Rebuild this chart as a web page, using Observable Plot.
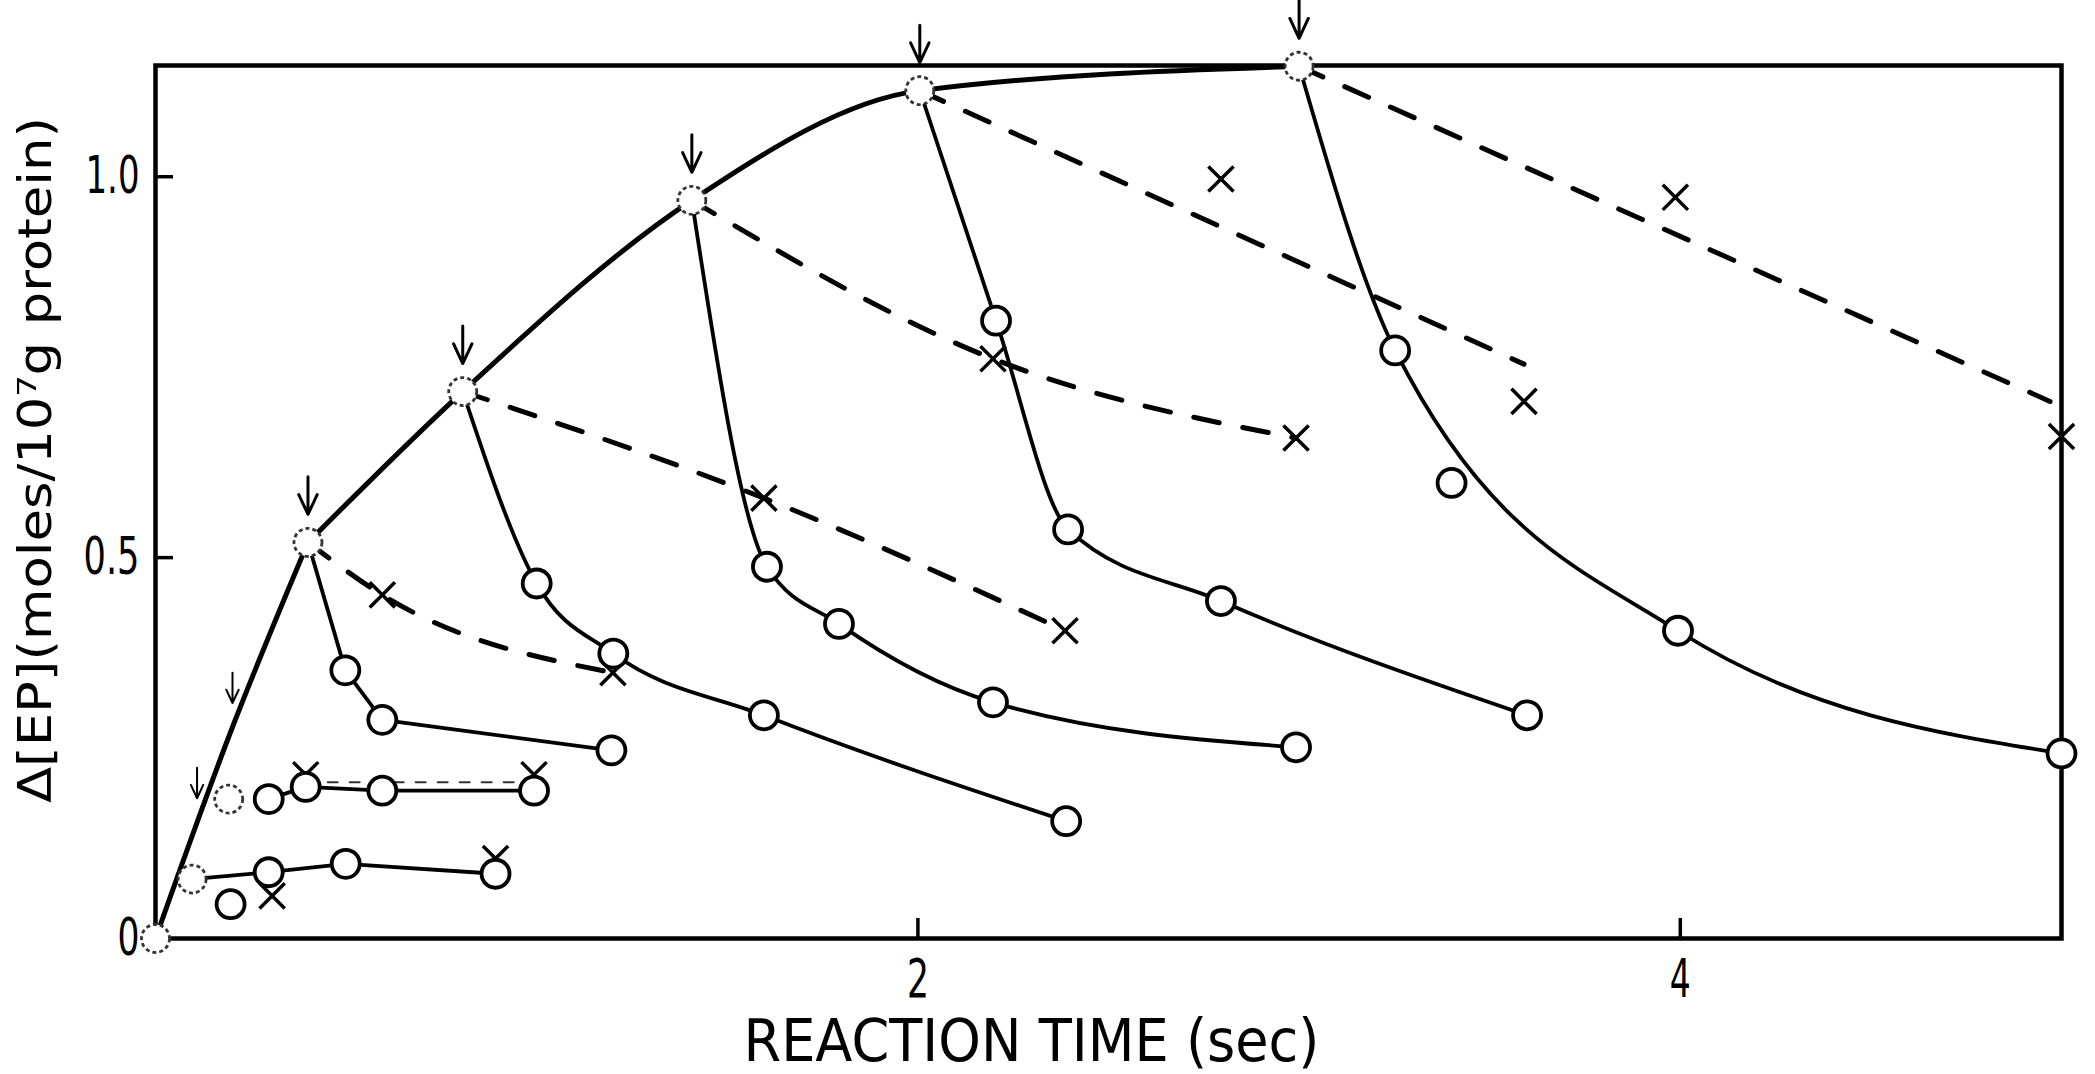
<!DOCTYPE html>
<html>
<head>
<meta charset="utf-8">
<script src="https://cdn.jsdelivr.net/npm/d3@7"></script>
<script src="https://cdn.jsdelivr.net/npm/@observablehq/plot@0.6"></script>
<style>
  html, body { margin: 0; padding: 0; background: #fff; }
  svg { display: block; }
</style>
</head>
<body>
<div id="chart"></div>
<script>
// ---------- data ----------
// main rising curve (reaction time in sec, Δ[EP]): early rise, then saturating part
const riseT = [0, 0.2, 0.4];
const riseY = [0, 0.275, 0.52];
const satT = [0.4, 0.806, 1.407, 2.005, 3.0];
const satY = [0.52, 0.718, 0.969, 1.113, 1.145];

// start points of each chase (drawn as dotted circles)
const startSeries = ["O", "F", "G", "A", "B", "C", "D", "E"];
const startT = [0, 0.096, 0.192, 0.4, 0.806, 1.407, 2.005, 3.0];
const startY = [0, 0.078, 0.183, 0.52, 0.718, 0.969, 1.113, 1.145];

// arrows marking the chase times on the main curve
const arrowT = [0.4, 0.806, 1.407, 2.005, 3.0];
const arrowY = [0.52, 0.718, 0.969, 1.113, 1.145];
const smallArrowT = [0.109, 0.202];
const smallArrowY = [0.15, 0.275];

// open circles (solid-line series)
const circA_T = [0.498, 0.595, 1.196], circA_Y = [0.352, 0.287, 0.247];
const circB_T = [1.0, 1.201, 1.596, 2.389], circB_Y = [0.466, 0.374, 0.293, 0.154];
const circC_T = [1.604, 1.793, 2.197, 2.992], circC_Y = [0.488, 0.413, 0.31, 0.251];
const circD_T = [2.205, 2.394, 2.795, 3.598], circD_Y = [0.811, 0.537, 0.443, 0.293];
const circE_T = [3.252, 3.40, 3.994, 5.0], circE_Y = [0.772, 0.598, 0.404, 0.243];
const circE_onLine = [true, false, true, true];
const circF_T = [0.297, 0.499, 0.892], circF_Y = [0.087, 0.098, 0.085];
const circG_T = [0.297, 0.394, 0.595, 0.993], circG_Y = [0.183, 0.199, 0.194, 0.194];
const loneCircT = [0.197], loneCircY = [0.045];

// crosses (dashed-line series)
const crossA_T = [0.595, 1.2], crossA_Y = [0.451, 0.349];
const crossB_T = [1.596, 2.386], crossB_Y = [0.578, 0.404];
const crossC_T = [2.197, 2.992], crossC_Y = [0.761, 0.657];
const crossD_T = [2.795, 3.59], crossD_Y = [0.997, 0.705];
const crossE_T = [3.987, 5.0], crossE_Y = [0.973, 0.659];
const crossF_T = [0.306, 0.892], crossF_Y = [0.056, 0.105];
const crossG_T = [0.394, 0.993], crossG_Y = [0.215, 0.215];

// straight dashed fits (D, E) and the faint dashed line of G
const dashD_T = [2.005, 3.59], dashD_Y = [1.113, 0.754];
const dashE_T = [3.0, 4.97], dashE_Y = [1.145, 0.705];
const dashG_T = [0.394, 0.993], dashG_Y = [0.205, 0.205];

// axes
const xTicks = [2, 4];
const yTickLabels = [0, 0.5, 1.0];
const yTicks = [0.5, 1.0];
const xTitle = "REACTION TIME (sec)";
const yTitle = "Δ[EP](moles/10⁷g protein)";

// ---------- build tables ----------
const zip = (s, T, Y) => T.map((t, i) => ({s, t, y: Y[i]}));
const startPt = Object.fromEntries(startSeries.map((s, i) => [s, {s, t: startT[i], y: startY[i]}]));

const rise = zip("rise", riseT, riseY);
const sat = zip("sat", satT, satY);
const starts = zip("start", startT, startY);
const arrows = zip("arrow", arrowT, arrowY);
const smallArrows = zip("arrow", smallArrowT, smallArrowY);

const circles = [
  ...zip("A", circA_T, circA_Y), ...zip("B", circB_T, circB_Y), ...zip("C", circC_T, circC_Y),
  ...zip("D", circD_T, circD_Y), ...zip("E", circE_T, circE_Y), ...zip("F", circF_T, circF_Y),
  ...zip("G", circG_T, circG_Y), ...zip("lone", loneCircT, loneCircY)
];
const crosses = [
  ...zip("A", crossA_T, crossA_Y), ...zip("B", crossB_T, crossB_Y), ...zip("C", crossC_T, crossC_Y),
  ...zip("D", crossD_T, crossD_Y), ...zip("E", crossE_T, crossE_Y), ...zip("F", crossF_T, crossF_Y),
  ...zip("G", crossG_T, crossG_Y)
];

const solidCurved = [
  [startPt.B, ...zip("B", circB_T, circB_Y)],
  [startPt.C, ...zip("C", circC_T, circC_Y)],
  [startPt.D, ...zip("D", circD_T, circD_Y)],
  [startPt.E, ...zip("E", circE_T, circE_Y).filter((d, i) => circE_onLine[i])]
].flat();
const solidStraight = [
  [startPt.A, ...zip("A", circA_T, circA_Y)],
  [startPt.F, ...zip("F", circF_T, circF_Y)],
  zip("G", circG_T, circG_Y)
].flat();
const dashedCurved = [
  [startPt.A, ...zip("A", crossA_T, crossA_Y)],
  [startPt.B, ...zip("B", crossB_T, crossB_Y)],
  [startPt.C, ...zip("C", crossC_T, crossC_Y)]
].flat();
const dashedStraight = [...zip("D", dashD_T, dashD_Y), ...zip("E", dashE_T, dashE_Y)];
const dashedThin = zip("G", dashG_T, dashG_Y);

const FONT = "'DejaVu Sans', 'Liberation Sans', sans-serif";

const svg = Plot.plot({
  width: 2095,
  height: 1074,
  marginLeft: 155,
  marginRight: 34,
  marginTop: 65,
  marginBottom: 136,
  x: {domain: [0, 5]},
  y: {domain: [0, 1.146]},
  style: {fontFamily: FONT, background: "#fff", color: "#000"},
  marks: [
    Plot.frame({stroke: "#000", strokeWidth: 4.5}),
    Plot.axisY(yTickLabels, {tickSize: 0, tickPadding: 16, fontSize: 52, label: null,
      tickFormat: d => d === 0 ? "0" : d.toFixed(1)}),
    Plot.axisY(yTicks, {tickSize: -18, strokeWidth: 3.5, tickFormat: () => "", label: null}),
    Plot.axisX(xTicks, {tickSize: 0, tickPadding: 20, fontSize: 54, label: null, tickFormat: d => String(d)}),
    Plot.axisX(xTicks, {tickSize: -20, strokeWidth: 3.5, tickFormat: () => "", label: null}),

    // main curve
    Plot.line(rise, {x: "t", y: "y", curve: "monotone-x", stroke: "#000", strokeWidth: 5}),
    Plot.line(sat, {x: "t", y: "y", curve: "monotone-x", stroke: "#000", strokeWidth: 5}),
    // solid chase lines
    Plot.line(solidCurved, {x: "t", y: "y", z: "s", curve: "monotone-x", stroke: "#000", strokeWidth: 3.8}),
    Plot.line(solidStraight, {x: "t", y: "y", z: "s", stroke: "#000", strokeWidth: 3.8}),
    // dashed chase lines
    Plot.line(dashedCurved, {x: "t", y: "y", z: "s", curve: "monotone-x", stroke: "#000", strokeWidth: 5, strokeDasharray: "26,24"}),
    Plot.line(dashedStraight, {x: "t", y: "y", z: "s", stroke: "#000", strokeWidth: 5, strokeDasharray: "26,24"}),
    Plot.line(dashedThin, {x: "t", y: "y", z: "s", stroke: "#333", strokeWidth: 2, strokeDasharray: "10,12"}),

    // crosses
    Plot.dot(crosses, {x: "t", y: "y", symbol: "times", r: 11.5, stroke: "#000", strokeWidth: 3.5}),
    // open circles
    Plot.dot(circles, {x: "t", y: "y", r: 14, fill: "#fff", stroke: "#000", strokeWidth: 3.8}),
    // dotted start circles
    Plot.dot(starts, {x: "t", y: "y", r: 14, fill: "#fff", stroke: "#333", strokeWidth: 2.8, strokeDasharray: "4,3"}),

    // arrows
    Plot.arrow(arrows, {x: "t", y1: d => d.y + 0.086, y2: "y", insetEnd: 28, headLength: 13, headAngle: 50, stroke: "#000", strokeWidth: 3}),
    Plot.arrow(smallArrows, {x: "t", y1: d => d.y + 0.074, y2: "y", insetEnd: 26, headLength: 11, headAngle: 50, stroke: "#000", strokeWidth: 2}),

    // axis titles
    Plot.text([xTitle], {text: d => d, frameAnchor: "bottom", textAnchor: "middle", dx: -77, dy: 104, fontSize: 58, lineAnchor: "middle"}),
    Plot.text([yTitle], {text: d => d, frameAnchor: "left", textAnchor: "middle", rotate: -90, dx: -119, dy: -42, fontSize: 46, lineAnchor: "middle"})
  ]
});

// condense lettering to the narrow hand-lettered widths of the original
const widths = {"0": 22, "0.5": 56, "1.0": 54, "2": 22, "4": 21};
widths[xTitle] = 576;
widths[yTitle] = 686;
svg.querySelectorAll("text").forEach(t => {
  const w = widths[t.textContent];
  if (w) { t.setAttribute("textLength", w); t.setAttribute("lengthAdjust", "spacingAndGlyphs"); }
});

document.getElementById("chart").appendChild(svg);
</script>
</body>
</html>
